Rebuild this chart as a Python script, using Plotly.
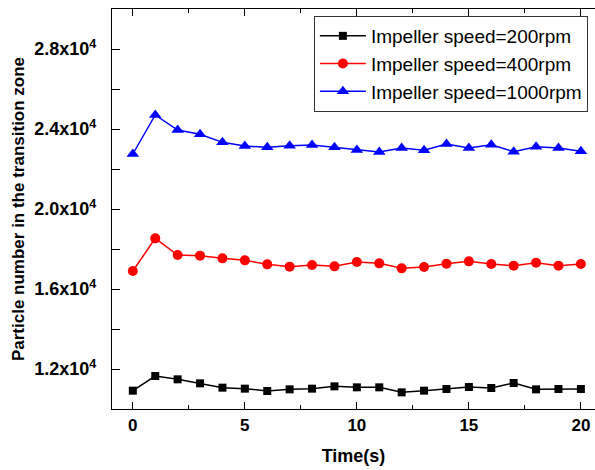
import plotly.graph_objects as go

time_s = list(range(0, 21))
speed_200 = [10917, 11650, 11483, 11283, 11067, 11017, 10900, 10983, 11017, 11133, 11083,
             11083, 10833, 10917, 11000, 11100, 11050, 11300, 10983, 11000, 11000]
speed_400 = [16900, 18533, 17700, 17667, 17533, 17433, 17233, 17117, 17200, 17133, 17350,
             17283, 17033, 17100, 17267, 17383, 17250, 17167, 17317, 17167, 17250]
speed_1000 = [22750, 24700, 23950, 23733, 23333, 23150, 23083, 23167, 23200, 23083, 22950,
              22850, 23050, 22933, 23250, 23050, 23217, 22867, 23117, 23050, 22883]
series_names = ["Impeller speed=200rpm", "Impeller speed=400rpm", "Impeller speed=1000rpm"]

y_tick_vals = [12000, 16000, 20000, 24000, 28000]
y_tick_text = ["1.2x10<sup>4</sup>", "1.6x10<sup>4</sup>", "2.0x10<sup>4</sup>",
               "2.4x10<sup>4</sup>", "2.8x10<sup>4</sup>"]
x_tick_vals = [0, 5, 10, 15, 20]

FONT = "Liberation Sans, Arial, sans-serif"

fig = go.Figure()
styles = [("#000000", "square", 8), ("#ff0000", "circle", 10), ("#0000ff", "triangle-up", 11)]
for name, vals, (col, sym, sz) in zip(series_names, [speed_200, speed_400, speed_1000], styles):
    fig.add_trace(go.Scatter(
        x=time_s, y=vals, name=name, mode="lines+markers",
        line=dict(color=col, width=1.5),
        marker=dict(color=col, symbol=sym, size=sz, line=dict(width=0)),
    ))

fig.update_layout(
    width=595, height=470,
    margin=dict(l=112, r=0, t=9, b=61),
    paper_bgcolor="#fefefe", plot_bgcolor="#ffffff",
    font=dict(family=FONT, color="#000000"),
    showlegend=True,
    legend=dict(
        x=0.418, y=0.9825, xanchor="left", yanchor="top",
        font=dict(family=FONT, size=19, color="#000000"),
        bgcolor="#ffffff", bordercolor="#333333", borderwidth=1,
        itemwidth=46, tracegroupgap=0,
    ),
)

fig.update_xaxes(
    range=[-0.93, 20.63], tickvals=x_tick_vals,
    ticks="inside", ticklen=7, tickwidth=1, tickcolor="#000000",
    minor=dict(dtick=2.5, tick0=0, ticks="inside", ticklen=4, tickcolor="#000000"),
    showline=True, linecolor="#000000", linewidth=1.2, mirror="ticks",
    showgrid=False, zeroline=False,
    tickfont=dict(family=FONT, size=17, weight="bold"),
    title=dict(text="Time(s)", font=dict(family=FONT, size=18, weight="bold"), standoff=15),
)
fig.update_yaxes(
    range=[10000, 30000], tickvals=y_tick_vals, ticktext=y_tick_text,
    ticks="inside", ticklen=8, tickwidth=1, tickcolor="#000000",
    minor=dict(dtick=2000, tick0=10000, ticks="inside", ticklen=8, tickcolor="#000000"),
    showline=True, linecolor="#000000", linewidth=1.2, mirror=False,
    showgrid=False, zeroline=False, ticklabelstandoff=11,
    tickfont=dict(family=FONT, size=18, weight="bold"),
    title=dict(text="Particle number in the transition zone",
               font=dict(family=FONT, size=17, weight="bold"), standoff=5),
)

fig.write_html("out.html", config={"displayModeBar": False},
               post_script="document.body.style.margin='0';")
